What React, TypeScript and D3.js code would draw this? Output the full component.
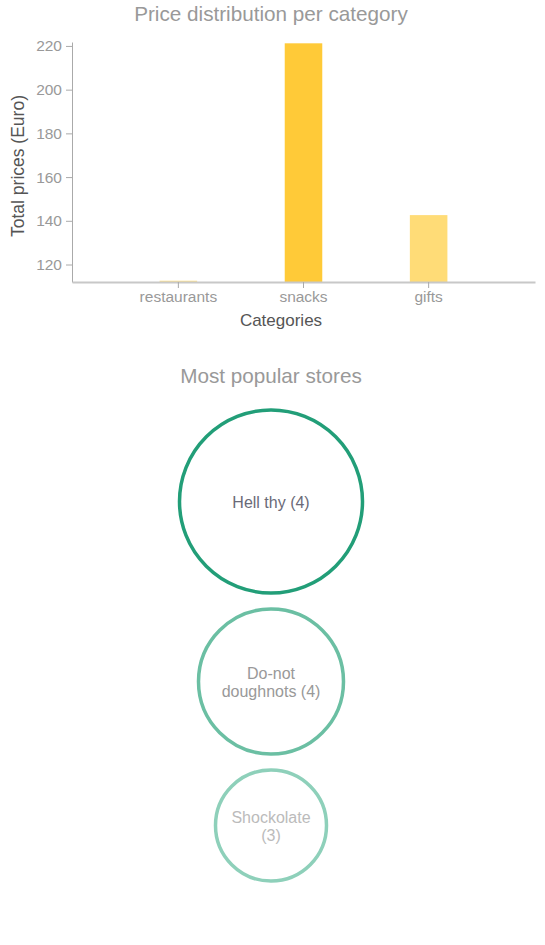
import React, { useRef, useEffect } from 'react'
import * as d3 from 'd3'

const categories = ['restaurants', 'snacks', 'gifts']
const totals = [112.6, 221.2, 142.6]
const yTicks = [120, 140, 160, 180, 200, 220]

const stores = ['Hell thy', 'Do-not doughnots', 'Shockolate']
const storeCounts = [4, 4, 3]
const storeLines = [['Hell thy (4)'], ['Do-not', 'doughnots (4)'], ['Shockolate', '(3)']]

const FONT = 'Arial, "Liberation Sans", sans-serif'

const BarChart: React.FC = () => {
  const ref = useRef<SVGSVGElement>(null)

  useEffect(() => {
    if (!ref.current) return
    const svg = d3.select(ref.current)
    svg.selectAll('*').remove()

    const margin = { top: 42, right: 10, bottom: 64, left: 72 }
    const width = 545
    const height = 346
    const innerW = width - margin.left - margin.right
    const innerH = height - margin.top - margin.bottom

    svg.attr('width', width).attr('height', height)

    svg
      .append('text')
      .attr('x', 271)
      .attr('y', 21)
      .attr('text-anchor', 'middle')
      .style('font-family', FONT)
      .style('font-size', '20.7px')
      .style('fill', '#999')
      .text('Price distribution per category')

    const g = svg.append('g').attr('transform', `translate(${margin.left},${margin.top})`)

    const x = d3.scaleBand().domain(categories).range([0, innerW]).paddingInner(0.7).paddingOuter(0.7)
    const y = d3.scaleLinear().domain([112, 221.8]).range([innerH, 0])
    const color = d3
      .scaleLinear<string>()
      .domain([d3.min(totals) as number, d3.max(totals) as number])
      .range(['#ffe38f', '#ffca38'])

    g.selectAll('.bar')
      .data(categories)
      .enter()
      .append('rect')
      .attr('x', d => x(d) as number)
      .attr('width', x.bandwidth())
      .attr('y', (_, i) => y(totals[i]))
      .attr('height', (_, i) => innerH - y(totals[i]))
      .attr('fill', (_, i) => color(totals[i]))

    const yAxis = g.append('g').call(d3.axisLeft(y).tickValues(yTicks).tickSize(6).tickSizeOuter(0))
    const xAxis = g
      .append('g')
      .attr('transform', `translate(0,${innerH})`)
      .call(d3.axisBottom(x).tickSize(6).tickSizeOuter(0))

    ;[yAxis, xAxis].forEach(a => {
      a.select('.domain').attr('stroke', '#c8c8c8').attr('stroke-width', 2)
      a.selectAll('.tick line').attr('stroke', '#aaa')
      a.selectAll('text').style('font-family', FONT).style('font-size', '15.5px').style('fill', '#999')
    })
    xAxis.selectAll('.tick text').attr('y', 20).attr('dy', 0)
    yAxis.selectAll('.tick text').attr('x', -10)
    yAxis.select('.domain').attr('stroke-width', 1).attr('stroke', '#aaa')

    svg
      .append('text')
      .attr('x', 281)
      .attr('y', 326)
      .attr('text-anchor', 'middle')
      .style('font-family', FONT)
      .style('font-size', '17px')
      .style('fill', '#555')
      .text('Categories')

    svg
      .append('text')
      .attr('transform', `translate(24,166) rotate(-90)`)
      .attr('text-anchor', 'middle')
      .style('font-family', FONT)
      .style('font-size', '17.5px')
      .style('fill', '#555')
      .text('Total prices (Euro)')
  }, [])

  return <svg ref={ref} style={{ display: 'block', position: 'absolute', left: 0, top: 0 }} />
}

const StoresChart: React.FC = () => {
  const ref = useRef<SVGSVGElement>(null)

  useEffect(() => {
    if (!ref.current) return
    const svg = d3.select(ref.current)
    svg.selectAll('*').remove()
    svg.attr('width', 545).attr('height', 599)

    svg
      .append('text')
      .attr('x', 271)
      .attr('y', 37)
      .attr('text-anchor', 'middle')
      .style('font-family', FONT)
      .style('font-size', '20.7px')
      .style('fill', '#999')
      .text('Most popular stores')

    const rank = d3.scaleLinear().domain([0, stores.length - 1]).range([91.5, 55.5])
    const radii = stores.map((_, i) => rank(i) + (i === 1 ? -1 : 0))
    const stroke = d3
      .scaleLinear<string>()
      .domain([0, 1, 2])
      .range(['#229e78', '#6bbfa3', '#8ed0ba'])
    const textColor = d3
      .scaleLinear<string>()
      .domain([0, 1, 2])
      .range(['#6a6a78', '#999999', '#bbbbbb'])
    const gap = 16
    let cy = 64
    const centers = radii.map(r => {
      const c = cy + r
      cy = c + r + gap
      return c
    })

    const nodes = svg
      .selectAll('.store')
      .data(stores)
      .enter()
      .append('g')
      .attr('transform', (_, i) => `translate(271,${centers[i]})`)

    nodes
      .append('circle')
      .attr('r', (_, i) => radii[i])
      .attr('fill', 'none')
      .attr('stroke', (_, i) => stroke(i))
      .attr('stroke-width', 3.5)

    nodes.each(function (_, i) {
      const lines = storeLines[i]
      const t = d3
        .select(this)
        .append('text')
        .attr('text-anchor', 'middle')
        .style('font-family', FONT)
        .style('font-size', '16px')
        .style('fill', textColor(i))
        .attr('data-count', storeCounts[i])
      lines.forEach((l, j) => {
        t.append('tspan')
          .attr('x', 0)
          .attr('y', (j - (lines.length - 1) / 2) * 18 + 6)
          .text(l)
      })
    })
  }, [])

  return <svg ref={ref} style={{ display: 'block', position: 'absolute', left: 0, top: 346 }} />
}

export default function App() {
  return (
    <div style={{ position: 'absolute', left: 0, top: 0, width: 545, height: 945 }}>
      <BarChart />
      <StoresChart />
    </div>
  )
}
